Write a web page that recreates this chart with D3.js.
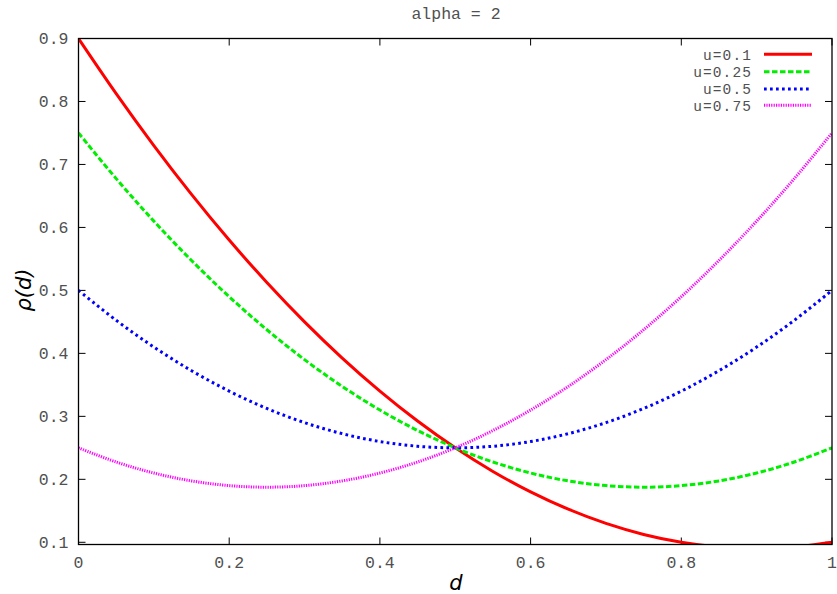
<!DOCTYPE html>
<html><head><meta charset="utf-8">
<script src="https://cdn.jsdelivr.net/npm/d3@7"></script>
<style>body{margin:0;background:#fff}</style>
</head><body>
<script>
const dValues = [0,0.05,0.1,0.15,0.2,0.25,0.3,0.35,0.4,0.45,0.5,0.55,0.6,0.65,0.7,0.75,0.8,0.85,0.9,0.95,1];
const seriesNames = ["u=0.1","u=0.25","u=0.5","u=0.75"];
const rhoU010 = [0.9,0.8125,0.73,0.6525,0.58,0.5125,0.45,0.3925,0.34,0.2925,0.25,0.2125,0.18,0.1525,0.13,0.1125,0.1,0.0925,0.09,0.0925,0.1];
const rhoU025 = [0.75,0.6775,0.61,0.5475,0.49,0.4375,0.39,0.3475,0.31,0.2775,0.25,0.2275,0.21,0.1975,0.19,0.1875,0.19,0.1975,0.21,0.2275,0.25];
const rhoU050 = [0.5,0.4525,0.41,0.3725,0.34,0.3125,0.29,0.2725,0.26,0.2525,0.25,0.2525,0.26,0.2725,0.29,0.3125,0.34,0.3725,0.41,0.4525,0.5];
const rhoU075 = [0.25,0.2275,0.21,0.1975,0.19,0.1875,0.19,0.1975,0.21,0.2275,0.25,0.2775,0.31,0.3475,0.39,0.4375,0.49,0.5475,0.61,0.6775,0.75];
const xTicks = [0,0.2,0.4,0.6,0.8,1];
const xTickLabels = ["0","0.2","0.4","0.6","0.8","1"];
const yTicks = [0.1,0.2,0.3,0.4,0.5,0.6,0.7,0.8,0.9];
const yTickLabels = ["0.1","0.2","0.3","0.4","0.5","0.6","0.7","0.8","0.9"];
const yDomain = [0.0965, 0.9];

const W = 837, H = 594;
const L = 78.5, T = 38.5, R = 832, B = 544.5;
const svg = d3.select("body").append("svg").attr("width", W).attr("height", H);
const x = d3.scaleLinear().domain([0,1]).range([L,R]);
const y = d3.scaleLinear().domain(yDomain).range([B,T]);

const styles = [
  {color:"#ff0000", dash:null, w:3},
  {color:"#00ee00", dash:"5.5,2.5", w:3},
  {color:"#0000ff", dash:"2.7,3.3", w:3},
  {color:"#ff00ff", dash:"1.2,1.2", w:3}
];
const allSeries = [rhoU010, rhoU025, rhoU050, rhoU075];

svg.append("defs").append("clipPath").attr("id","clip")
  .append("rect").attr("x",L).attr("y",T).attr("width",R-L).attr("height",B-T);

const mono = "'Liberation Mono','DejaVu Sans Mono',monospace";
const tickColor = "#505050";
const fs = 16.5;

// ticks (inward, mirrored)
const g = svg.append("g");
const tl = 7;
xTicks.forEach((v,i)=>{
  const px = x(v);
  g.append("line").attr("x1",px).attr("x2",px).attr("y1",B).attr("y2",B-tl).attr("stroke","#000");
  g.append("line").attr("x1",px).attr("x2",px).attr("y1",T).attr("y2",T+tl).attr("stroke","#000");
  g.append("text").attr("x",px).attr("y",B+23).attr("text-anchor","middle")
    .attr("font-family",mono).attr("font-size",fs).attr("fill",tickColor).text(xTickLabels[i]);
});
yTicks.forEach((v,i)=>{
  const py = y(v);
  g.append("line").attr("x1",L).attr("x2",L+tl).attr("y1",py).attr("y2",py).attr("stroke","#000");
  g.append("line").attr("x1",R).attr("x2",R-tl).attr("y1",py).attr("y2",py).attr("stroke","#000");
  g.append("text").attr("x",L-10).attr("y",py+5.8).attr("text-anchor","end")
    .attr("font-family",mono).attr("font-size",fs).attr("fill",tickColor).text(yTickLabels[i]);
});

// curves
const line = d3.line().x((d,i)=>x(dValues[i])).y(d=>y(d)).curve(d3.curveCatmullRom);
const curves = svg.append("g").attr("clip-path","url(#clip)");
allSeries.forEach((s,k)=>{
  curves.append("path").attr("d", line(s)).attr("fill","none")
    .attr("stroke",styles[k].color).attr("stroke-width",styles[k].w)
    .attr("stroke-dasharray",styles[k].dash);
});

// frame
svg.append("rect").attr("x",L).attr("y",T).attr("width",R-L).attr("height",B-T)
  .attr("fill","none").attr("stroke","#000").attr("stroke-width",1.3);

// legend
const legY = [54.3,71.7,89,105.3];
seriesNames.forEach((n,k)=>{
  svg.append("text").attr("x",752).attr("y",legY[k]+5.3).attr("text-anchor","end")
    .attr("font-family",mono).attr("font-size",14.5).attr("letter-spacing","1.1px")
    .attr("fill",tickColor).text(n);
  svg.append("line").attr("x1",764).attr("x2",812).attr("y1",legY[k]).attr("y2",legY[k])
    .attr("stroke",styles[k].color).attr("stroke-width",styles[k].w)
    .attr("stroke-dasharray",styles[k].dash);
});

// title and labels
svg.append("text").attr("x",456).attr("y",19).attr("text-anchor","middle")
  .attr("font-family",mono).attr("font-size",fs).attr("fill",tickColor).text("alpha = 2");
svg.append("text").attr("x",456).attr("y",590).attr("text-anchor","middle")
  .attr("font-family","'DejaVu Sans',sans-serif").attr("font-style","italic")
  .attr("font-size",21).attr("fill","#000").text("d");
svg.append("text").attr("transform","translate(31,290) rotate(-90)").attr("text-anchor","middle")
  .attr("font-family","'DejaVu Sans',sans-serif").attr("font-style","italic")
  .attr("font-size",21).attr("fill","#000").text("ρ(d)");
</script>
</body></html>
